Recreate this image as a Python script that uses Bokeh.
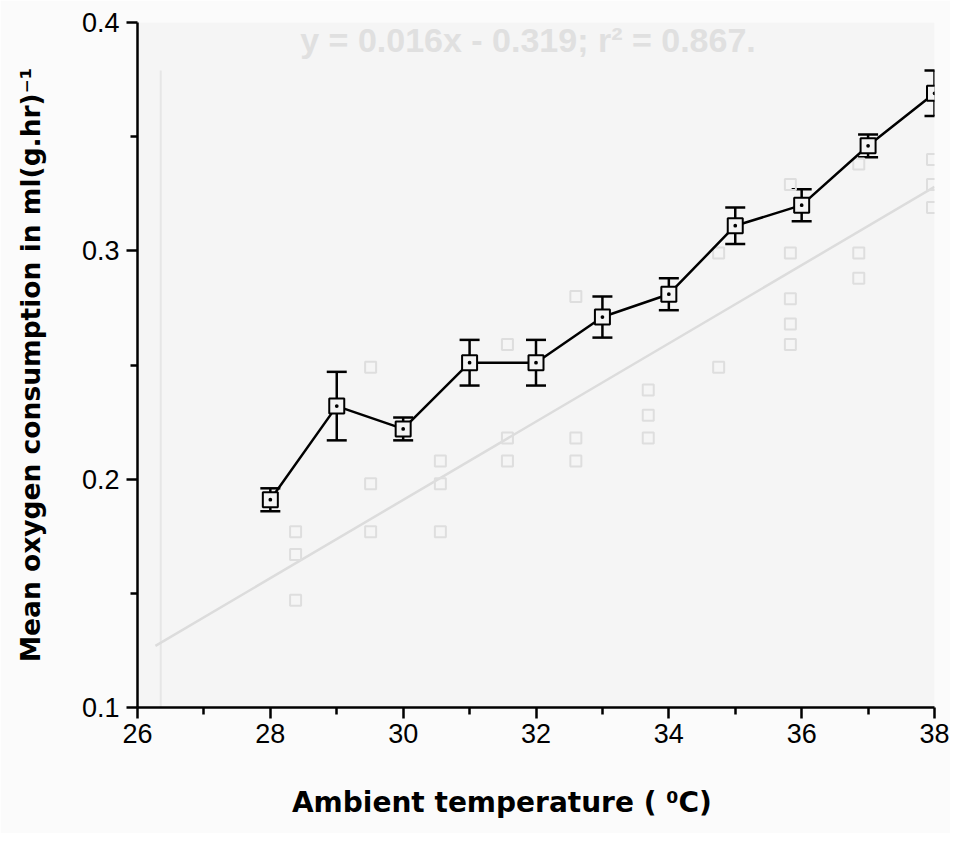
from bokeh.plotting import figure
from bokeh.models import FixedTicker, Whisker, TeeHead, ColumnDataSource, Label
from bokeh.embed import file_html
from bokeh.resources import INLINE

# Main series: mean oxygen consumption vs ambient temperature
temperature = [28, 29, 30, 31, 32, 33, 34, 35, 36, 37, 38]
mean_o2 = [0.191, 0.232, 0.222, 0.251, 0.251, 0.271, 0.281, 0.311, 0.320, 0.346, 0.369]
sem_o2 = [0.005, 0.015, 0.005, 0.010, 0.010, 0.009, 0.007, 0.008, 0.007, 0.005, 0.010]

x_ticks = [26, 28, 30, 32, 34, 36, 38]
x_minor = [27, 29, 31, 33, 35, 37]
y_ticks = [0.1, 0.2, 0.3, 0.4]
y_minor = [0.15, 0.25, 0.35]

# Faint bleed-through from the reverse page (ghost scatter + regression line)
ghost_x = [28.38, 28.38, 28.38, 29.51, 29.51, 29.51, 30.56, 30.56, 30.56,
           31.57, 31.57, 31.57, 32.60, 32.60, 32.60, 33.69, 33.69, 33.69,
           34.75, 34.75, 35.83, 35.83, 35.83, 35.83, 35.83,
           36.86, 36.86, 36.86, 37.97, 37.97, 37.97]
ghost_y = [0.177, 0.167, 0.147, 0.249, 0.198, 0.177, 0.208, 0.198, 0.177,
           0.259, 0.218, 0.208, 0.280, 0.218, 0.208, 0.239, 0.228, 0.218,
           0.299, 0.249, 0.329, 0.299, 0.279, 0.268, 0.259,
           0.338, 0.299, 0.288, 0.340, 0.329, 0.319]
ghost_line_x = [26.27, 38.0]
ghost_line_y = [0.127, 0.328]
ghost_axis_x = [26.35, 26.35]
ghost_axis_y = [0.1, 0.379]
ghost_title = "y = 0.016x - 0.319; r\u00b2 = 0.867."

p = figure(width=950, height=833, x_range=(26, 38), y_range=(0.1, 0.4),
           output_backend="svg", toolbar_location=None,
           min_border_left=137, min_border_right=16,
           min_border_top=22, min_border_bottom=126)

p.background_fill_color = "#f5f5f5"
p.border_fill_color = "#fbfbfb"
p.outline_line_color = None
p.xgrid.visible = False
p.ygrid.visible = False

# ghost layer
p.line(ghost_axis_x, ghost_axis_y, line_color="#e6e6e6", line_width=2)
p.line(ghost_line_x, ghost_line_y, line_color="#dcdcdc", line_width=2.5)
p.scatter(ghost_x, ghost_y, marker="square", size=11, fill_color=None,
          line_color="#dedede", line_width=2)
p.add_layout(Label(x=28.45, y=0.384, text=ghost_title, text_color="#e0e0e0",
                   text_font="Liberation Sans", text_font_size="34px",
                   text_font_style="bold"))

# main data
src = ColumnDataSource(dict(x=temperature, y=mean_o2,
                            lo=[m - s for m, s in zip(mean_o2, sem_o2)],
                            hi=[m + s for m, s in zip(mean_o2, sem_o2)]))
w = Whisker(source=src, base="x", lower="lo", upper="hi",
            line_color="black", line_width=2.5,
            upper_head=TeeHead(size=20, line_color="black", line_width=2.5),
            lower_head=TeeHead(size=20, line_color="black", line_width=2.5))
p.add_layout(w)
p.line("x", "y", source=src, line_color="black", line_width=2.5)
p.scatter("x", "y", source=src, marker="square_dot", size=15,
          fill_color="#f4f4f4", line_color="black", line_width=2)

# axes
for ax in (p.xaxis[0], p.yaxis[0]):
    ax.axis_line_width = 2.5
    ax.axis_line_color = "black"
    ax.major_tick_line_width = 2.5
    ax.minor_tick_line_width = 2.5
    ax.major_tick_line_color = "black"
    ax.minor_tick_line_color = "black"
    ax.major_tick_in = 0
    ax.minor_tick_in = 0
    ax.major_tick_out = 11
    ax.minor_tick_out = 7
    ax.major_label_text_font = "Liberation Sans"
    ax.major_label_text_font_size = "27px"
    ax.major_label_text_color = "black"
    ax.axis_label_text_font = "DejaVu Sans"
    ax.axis_label_text_font_style = "bold"
    ax.axis_label_text_color = "black"

p.xaxis.axis_label_text_font_size = "28px"
p.yaxis.axis_label_text_font_size = "26.5px"
p.xaxis.ticker = FixedTicker(ticks=x_ticks, minor_ticks=x_minor)
p.yaxis.ticker = FixedTicker(ticks=y_ticks, minor_ticks=y_minor)
p.xaxis.major_label_standoff = 5
p.yaxis.major_label_standoff = 7
p.yaxis.major_label_overrides = {0.1: "0.1", 0.2: "0.2", 0.3: "0.3", 0.4: "0.4"}
p.xaxis.axis_label = "Ambient temperature ( \u2070C)" + "\u00a0" * 7
p.yaxis.axis_label = "Mean oxygen consumption in ml(g.hr)\u207b\u00b9"
p.xaxis.axis_label_standoff = 40
p.yaxis.axis_label_standoff = 33

open("out.html", "w").write(file_html(p, INLINE))
